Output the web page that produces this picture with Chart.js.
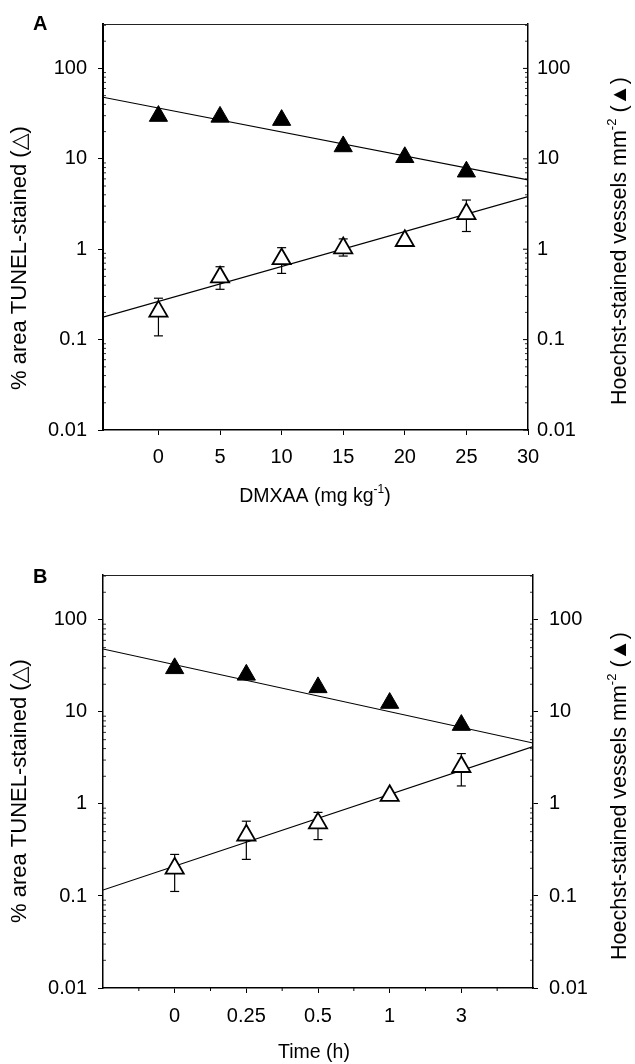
<!DOCTYPE html>
<html>
<head>
<meta charset="utf-8">
<script src="https://cdn.jsdelivr.net/npm/chart.js@4.4.1/dist/chart.umd.min.js"></script>
<style>
  html, body { margin: 0; padding: 0; background: #fff; }
  #wrap { position: relative; width: 635px; height: 1064px; background: #fff; }
  #wrap canvas { position: absolute; left: 0; }
</style>
</head>
<body>
<div id="wrap">
  <canvas id="panelA" width="635" height="532" style="top:0"></canvas>
  <canvas id="panelB" width="635" height="532" style="top:532px"></canvas>
</div>
<script>
// ---- Panel A: DMXAA dose (mg/kg) ----
const doseLevels      = [0, 5, 10, 15, 20, 25];
const doseVessels     = [29.7, 29.1, 26.8, 13.7, 10.4, 7.2];     // Hoechst-stained vessels mm^-2
const doseTunel       = [0.205, 0.49, 0.78, 1.03, 1.24, 2.46];   // % area TUNEL-stained
const doseTunelHigh   = [0.287, 0.64, 1.04, 1.30, null, 3.50];
const doseTunelLow    = [0.110, 0.36, 0.54, 0.84, null, 1.57];
const doseVesselFit   = [[-4.5, 48.0], [30, 5.85]];
const doseTunelFit    = [[-4.5, 0.177], [30, 3.82]];
const doseTicks       = [0, 5, 10, 15, 20, 25, 30];

// ---- Panel B: time after treatment (h) ----
const timeLabels      = ['0', '0.25', '0.5', '1', '3'];
const timeVessels     = [29.8, 25.3, 18.5, 12.5, 7.2];
const timeTunel       = [0.20, 0.457, 0.62, 1.23, 2.54];
const timeTunelHigh   = [0.283, 0.65, 0.81, null, 3.53];
const timeTunelLow    = [0.112, 0.25, 0.41, null, 1.57];
const timeVesselFit   = [[-1, 48.4], [5, 4.6]];
const timeTunelFit    = [[-1, 0.116], [5, 4.2]];

// ---- shared log axis ----
const logTicks      = [0.01, 0.1, 1, 10, 100];
const logTickLabels = ['0.01', '0.1', '1', '10', '100'];

const FONT = '"Liberation Sans", Arial, Helvetica, "DejaVu Sans", sans-serif';
const INK = '#000';

function pts(xs, ys) { return xs.map((x, i) => ({ x: x, y: ys[i] })); }
function pairPts(arr) { return arr.map(a => ({ x: a[0], y: a[1] })); }

// text with optional superscript pieces, centred on (cx, cy), optionally rotated
function drawRich(ctx, parts, cx, cy, size, rotated) {
  ctx.save();
  ctx.translate(cx, cy);
  if (rotated) ctx.rotate(-Math.PI / 2);
  const base = size + 'px ' + FONT;
  const sup = Math.round(size * 0.62) + 'px ' + FONT;
  let total = 0;
  parts.forEach(p => { ctx.font = p.sup ? sup : base; p.w = ctx.measureText(p.t).width; total += p.w; });
  let x = -total / 2;
  ctx.fillStyle = INK;
  ctx.textBaseline = 'middle';
  ctx.textAlign = 'left';
  parts.forEach(p => {
    ctx.font = p.sup ? sup : base;
    ctx.fillText(p.t, x, p.sup ? -size * 0.36 : 0);
    x += p.w;
  });
  ctx.restore();
}

function line(ctx, x1, y1, x2, y2) {
  ctx.beginPath(); ctx.moveTo(x1, y1); ctx.lineTo(x2, y2); ctx.stroke();
}

function decorPlugin(p) {
  return {
    id: 'decor',
    beforeDatasetsDraw(chart) {
      const ctx = chart.ctx, sx = chart.scales.x, sy = chart.scales.yL;
      ctx.save();
      ctx.strokeStyle = INK;
      ctx.lineWidth = 1.2;
      p.xs.forEach((xv, i) => {
        if (p.hi[i] == null) return;
        const x = sx.getPixelForValue(xv);
        const yh = sy.getPixelForValue(p.hi[i]);
        const yl = sy.getPixelForValue(p.lo[i]);
        line(ctx, x, yl, x, yh);
        line(ctx, x - 4.5, yh, x + 4.5, yh);
        line(ctx, x - 4.5, yl, x + 4.5, yl);
      });
      ctx.restore();
    },
    afterDraw(chart) {
      const ctx = chart.ctx, a = chart.chartArea;
      const sL = chart.scales.yL, sR = chart.scales.yR, sx = chart.scales.x;
      ctx.save();
      // top frame
      ctx.lineWidth = 1;
      ctx.strokeStyle = '#222';
      line(ctx, a.left, a.top + 0.5, a.right, a.top + 0.5);
      ctx.strokeStyle = INK;
      // inward minor ticks on both log axes
      ctx.lineWidth = 0.8;
      for (let d = -2; d <= 2; d++) {
        for (let m = 2; m <= 9; m++) {
          const v = m * Math.pow(10, d);
          if (v > sL.max) continue;
          const yl = sL.getPixelForValue(v);
          line(ctx, a.left, yl, a.left + 3, yl);
          const yr = sR.getPixelForValue(v);
          line(ctx, a.right, yr, a.right - 3, yr);
        }
      }
      // inward major ticks on the right axis
      if (p.rightInward) {
        ctx.lineWidth = 1;
        logTicks.forEach(v => {
          const y = sR.getPixelForValue(v);
          line(ctx, a.right, y, a.right - 5, y);
        });
      }
      // minor ticks on the time axis
      if (p.xMinor) {
        ctx.lineWidth = 1;
        p.xMinor.forEach(v => {
          const x = sx.getPixelForValue(v);
          line(ctx, x, a.bottom, x, a.bottom + 3);
        });
      }
      // panel letter
      ctx.fillStyle = INK;
      ctx.font = 'bold 20px ' + FONT;
      ctx.textBaseline = 'middle';
      ctx.textAlign = 'left';
      ctx.fillText(p.letter, p.letterPos[0], p.letterPos[1]);
      ctx.restore();
      // axis titles
      drawRich(ctx, [{ t: '% area TUNEL-stained (\u25B3)' }], p.leftTitle[0], p.leftTitle[1], 22, true);
      drawRich(ctx, [{ t: 'Hoechst-stained vessels mm' }, { t: '-2', sup: true }, { t: ' (\u25B2)' }],
               p.rightTitle[0], p.rightTitle[1], 21.5, true);
      drawRich(ctx, p.xTitle, p.xTitlePos[0], p.xTitlePos[1], 19.5, false);
    }
  };
}

function buildPanel(canvasId, p) {
  const tickFont = { family: FONT, size: 20 };
  const yAxis = (pos) => ({
    type: 'logarithmic',
    position: pos,
    min: 0.01,
    max: p.yMax,
    afterBuildTicks: s => { s.ticks = logTicks.map(v => ({ value: v })); },
    afterFit: s => { s.width = pos === 'left' ? p.left : p.canvasW - p.right; },
    ticks: {
      callback: (v, i) => logTickLabels[i],
      font: tickFont,
      color: INK,
      padding: pos === 'left' ? 11 : p.rightPad,
      autoSkip: false
    },
    grid: {
      drawOnChartArea: false,
      drawTicks: pos === 'left' ? true : !p.rightInward,
      tickLength: 5,
      tickColor: INK,
      tickWidth: 1
    },
    border: { display: true, color: INK, width: pos === 'left' ? p.leftBorder : 1.5 }
  });

  const datasets = [
    { data: pairPts(p.vFit), yAxisID: 'yR', showLine: true, borderColor: INK, borderWidth: 1.1,
      pointRadius: 0, pointHoverRadius: 0, order: 2 },
    { data: pairPts(p.tFit), yAxisID: 'yL', showLine: true, borderColor: INK, borderWidth: 1.1,
      pointRadius: 0, pointHoverRadius: 0, order: 2 },
    { data: pts(p.xs, p.vessels), yAxisID: 'yR', pointStyle: 'triangle', pointRadius: 10.5,
      pointHoverRadius: 10.5, backgroundColor: INK, borderColor: INK, borderWidth: 1, order: 0 },
    { data: pts(p.xs, p.tunel), yAxisID: 'yL', pointStyle: 'triangle', pointRadius: 10.5,
      pointHoverRadius: 10.5, backgroundColor: '#fff', borderColor: INK, borderWidth: 1.8, order: 0 }
  ];

  return new Chart(document.getElementById(canvasId), {
    type: 'scatter',
    data: { datasets: datasets },
    options: {
      responsive: false,
      animation: false,
      devicePixelRatio: 1,
      layout: { padding: { top: p.top, left: 0, right: 0, bottom: 0 } },
      plugins: { legend: { display: false }, tooltip: { enabled: false } },
      events: [],
      scales: {
        x: {
          type: 'linear',
          min: p.xMin,
          max: p.xMax,
          afterBuildTicks: s => { s.ticks = p.xTicks.map(v => ({ value: v })); },
          afterFit: s => { s.height = p.canvasH - p.bottom; },
          ticks: {
            callback: (v, i) => p.xTickLabels[i],
            font: tickFont,
            color: INK,
            padding: p.xPad,
            maxRotation: 0,
            autoSkip: false
          },
          grid: { drawOnChartArea: false, drawTicks: true, tickLength: 5, tickColor: INK, tickWidth: 1 },
          border: { display: true, color: INK, width: 1.5 }
        },
        yL: yAxis('left'),
        yR: yAxis('right')
      }
    },
    plugins: [decorPlugin(p)]
  });
}

buildPanel('panelA', {
  letter: 'A', letterPos: [33, 24],
  canvasW: 635, canvasH: 532,
  top: 24, bottom: 430, left: 103, right: 528,
  yMax: 310, xMin: -4.5, xMax: 30,
  xs: doseLevels, vessels: doseVessels, tunel: doseTunel, hi: doseTunelHigh, lo: doseTunelLow,
  vFit: doseVesselFit, tFit: doseTunelFit,
  xTicks: doseTicks, xTickLabels: doseTicks.map(String),
  xPad: 10, rightPad: 9, rightInward: true, leftBorder: 2,
  leftTitle: [20, 258], rightTitle: [620, 241],
  xTitle: [{ t: 'DMXAA (mg kg' }, { t: '-1', sup: true }, { t: ')' }], xTitlePos: [315, 497]
});

buildPanel('panelB', {
  letter: 'B', letterPos: [33, 45],
  canvasW: 635, canvasH: 532,
  top: 43, bottom: 456, left: 103, right: 533,
  yMax: 308, xMin: -1, xMax: 5,
  xs: timeLabels.map((t, i) => i), vessels: timeVessels, tunel: timeTunel, hi: timeTunelHigh, lo: timeTunelLow,
  vFit: timeVesselFit, tFit: timeTunelFit,
  xTicks: timeLabels.map((t, i) => i), xTickLabels: timeLabels,
  xMinor: [-0.5, 0.5, 1.5, 2.5, 3.5, 4.5],
  xPad: 11, rightPad: 11, rightInward: false, leftBorder: 1.5,
  leftTitle: [20, 259], rightTitle: [620, 264],
  xTitle: [{ t: 'Time (h)' }], xTitlePos: [314, 521]
});
</script>
</body>
</html>
